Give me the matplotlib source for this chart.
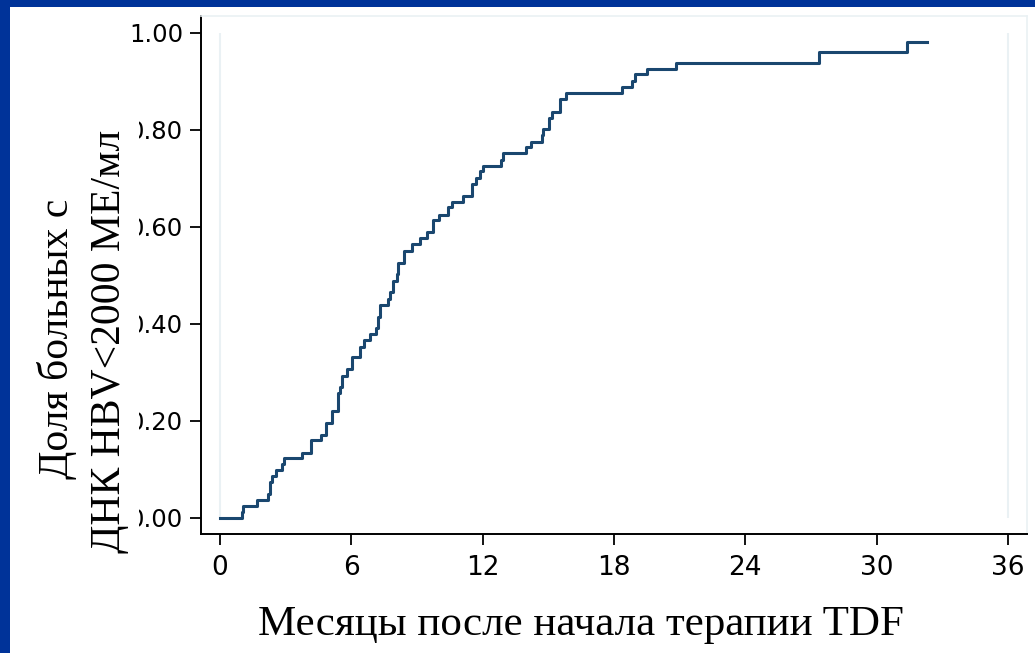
import numpy as np
import matplotlib
matplotlib.use("Agg")
import matplotlib.pyplot as plt
from matplotlib.patches import Rectangle

# step points (months since TDF start, cumulative share)
months = [0, 0.99, 1.06, 1.68, 2.18, 2.28, 2.39, 2.54, 2.82, 2.94, 3.73, 4.14,
          4.61, 4.84, 5.10, 5.37, 5.48, 5.59, 5.79, 6.05, 6.40, 6.60, 6.85, 7.11,
          7.20, 7.31, 7.66, 7.77, 7.92, 8.07, 8.15, 8.42, 8.79, 9.14, 9.44, 9.73,
          10.00, 10.43, 10.58, 11.12, 11.50, 11.70, 11.88, 12.03, 12.82, 12.94,
          13.98, 14.19, 14.69, 14.77, 15.04, 15.15, 15.53, 15.81, 18.35, 18.81,
          18.96, 19.49, 20.83, 27.38, 31.40, 32.30]
share = [0.000, 0.012, 0.025, 0.037, 0.049, 0.075, 0.086, 0.099, 0.111, 0.123,
         0.135, 0.160, 0.172, 0.196, 0.220, 0.258, 0.271, 0.293, 0.307, 0.331,
         0.353, 0.368, 0.379, 0.391, 0.414, 0.439, 0.451, 0.465, 0.489, 0.504,
         0.526, 0.551, 0.565, 0.577, 0.590, 0.614, 0.625, 0.641, 0.652, 0.664,
         0.689, 0.700, 0.716, 0.726, 0.738, 0.752, 0.764, 0.776, 0.790, 0.801,
         0.824, 0.838, 0.863, 0.876, 0.889, 0.902, 0.915, 0.926, 0.939, 0.960,
         0.981, 0.981]

xticks = [0, 6, 12, 18, 24, 30, 36]
yticks = [0.0, 0.2, 0.4, 0.6, 0.8, 1.0]
ytick_labels = ["0.00", "0.20", "0.40", "0.60", "0.80", "1.00"]

NAVY = "#1a476f"
FRAME = "#003399"
FAINT = "#eaf1f4"
W, H = 1035, 653

fig = plt.figure(figsize=(W / 100, H / 100), dpi=100)
fig.patch.set_facecolor("white")
ax = fig.add_axes([201 / W, 1 - 534 / H, (1027 - 201) / W, (534 - 16) / H])

ax.step(months, share, where="post", color=NAVY, lw=2.2, zorder=3)
# faint plot-region edges (Stata style)
ax.vlines([xticks[0], xticks[-1]], yticks[0], yticks[-1], colors=FAINT, lw=1.5, zorder=1)

ax.set_xlim(-0.87, 36.87)
ax.set_ylim(-0.033, 1.035)
ax.set_xticks(xticks)
ax.set_yticks(yticks)
ax.set_yticklabels(ytick_labels)
ax.tick_params(axis="x", length=8, width=1.3, pad=7, labelsize=19, colors="black")
ax.tick_params(axis="y", length=8, width=1.3, pad=5, labelsize=17.5, colors="black")
for s in ("left", "bottom"):
    ax.spines[s].set_linewidth(1.4)
    ax.spines[s].set_color("black")
for s in ("top", "right"):
    ax.spines[s].set_color(FAINT)
    ax.spines[s].set_linewidth(1.2)

# white backing behind the y title hides the leading zeros of the tick labels
fig.patches.append(Rectangle((80 / W, 1 - 565 / H), (139 - 80) / W, (565 - 118) / H,
                             transform=fig.transFigure, fc="white", ec="none", zorder=1))

serif = "Liberation Serif"
fig.text(57 / W, 1 - 339 / H, "Доля больных с", rotation=90, ha="center", va="center",
         fontsize=30, family=serif, zorder=3)
fig.text(110 / W, 1 - 341 / H, "ДНК HBV<2000 МЕ/мл", rotation=90, ha="center",
         va="center", fontsize=30, family=serif, zorder=3)
fig.text(581 / W, 1 - 635 / H, "Месяцы после начала терапии TDF", ha="center",
         va="baseline", fontsize=31, family=serif)

# slide frame
fig.patches.append(Rectangle((0, 1 - 7 / H), 1, 7 / H, transform=fig.transFigure,
                             fc=FRAME, ec="none", zorder=5))
fig.patches.append(Rectangle((0, 0), 10 / W, 1, transform=fig.transFigure,
                             fc=FRAME, ec="none", zorder=5))

fig.savefig("out.png", dpi=100)
